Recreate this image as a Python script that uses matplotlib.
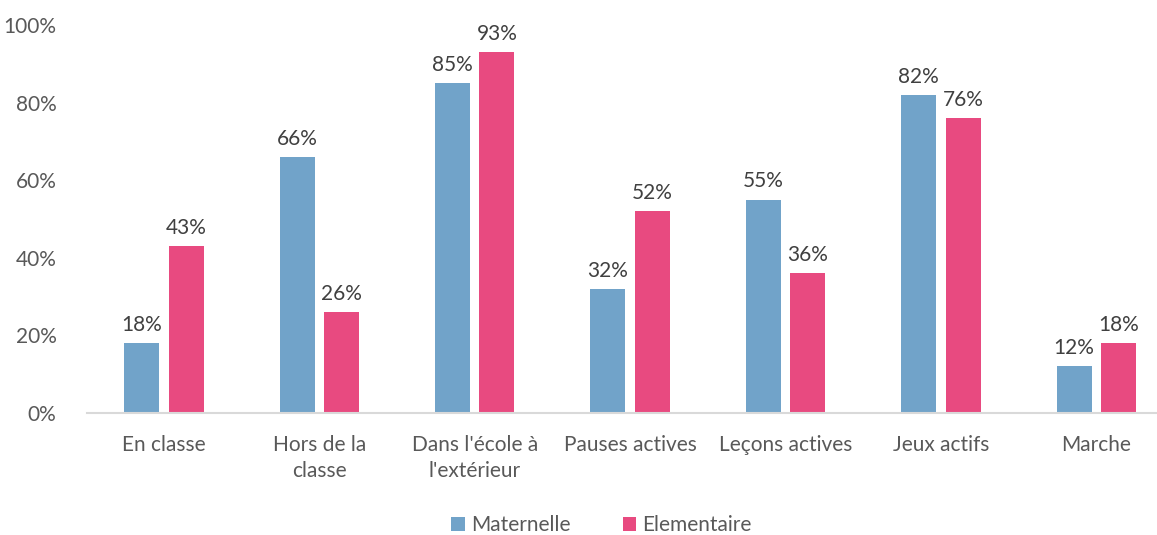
import matplotlib.pyplot as plt
import numpy as np

categories = ["En classe", "Hors de la\nclasse", "Dans l'école à\nl'extérieur",
              "Pauses actives", "Leçons actives", "Jeux actifs", "Marche"]
maternelle = [18, 66, 85, 32, 55, 82, 12]
elementaire = [43, 26, 93, 52, 36, 76, 18]
yticks = [0, 20, 40, 60, 80, 100]

blue = "#71A3C9"
pink = "#E84A80"
txt = "#404040"

plt.rcParams['font.family'] = ['Lato', 'DejaVu Sans']

fig = plt.figure(figsize=(11.57, 5.35), dpi=100)
ax = fig.add_axes([87 / 1157, 1 - 413 / 535, 1 - 87 / 1157, (413 - 25) / 535])

x = np.arange(len(categories))
w = 0.225
off = 0.143
b1 = ax.bar(x - off, maternelle, w, color=blue, label="Maternelle")
b2 = ax.bar(x + off, elementaire, w, color=pink, label="Elementaire")

# value labels
for bars, vals in ((b1, maternelle), (b2, elementaire)):
    for r, v in zip(bars, vals):
        ax.annotate(f"{v}%", (r.get_x() + r.get_width() / 2, v),
                    xytext=(0, 6), textcoords="offset points",
                    ha="center", va="bottom", fontsize=15, color=txt)

ax.set_ylim(0, 100)
ax.set_xlim(-0.495, 6.39)
ax.set_yticks(yticks)
ax.set_yticklabels([f"{t}%" for t in yticks])
ax.set_xticks(x)
ax.set_xticklabels(categories, linespacing=1.35)
ax.tick_params(axis="both", length=0, labelsize=15, labelcolor="#595959")
ax.tick_params(axis="x", pad=16)
ax.tick_params(axis="y", pad=22)

for s in ("top", "right", "left"):
    ax.spines[s].set_visible(False)
ax.spines["bottom"].set_color("#D9D9D9")
ax.spines["bottom"].set_linewidth(1.5)

fig.legend(loc="center", bbox_to_anchor=(0.52, 1 - 525 / 535), ncol=2,
           frameon=False, fontsize=15, handlelength=0.65, handleheight=0.65,
           handletextpad=0.3, columnspacing=2.5, labelcolor="#595959")

fig.savefig("out.png", dpi=100)
